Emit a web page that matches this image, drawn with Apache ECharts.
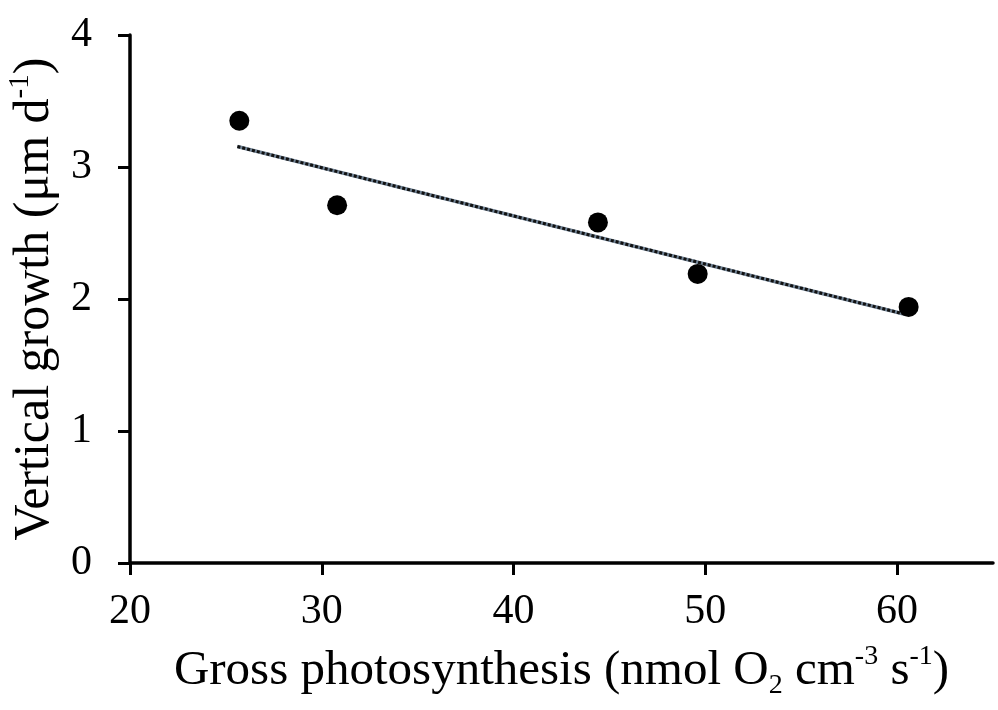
<!DOCTYPE html>
<html><head><meta charset="utf-8">
<script src="https://cdn.jsdelivr.net/npm/echarts@6/dist/echarts.min.js"></script>
<style>html,body{margin:0;padding:0;background:#fff}#c{width:998px;height:710px}</style>
</head><body><div id="c"></div>
<script>
const photosynthesis = [25.7, 30.8, 44.4, 49.6, 60.6];
const verticalGrowth = [3.35, 2.71, 2.58, 2.19, 1.94];
const trendX = [25.6, 60.4];
const trendY = [3.155, 1.885];
const xTicks = [20, 30, 40, 50, 60];
const yTicks = [0, 1, 2, 3, 4];

const FONT = '"Liberation Serif", "Times New Roman", serif';
const chart = echarts.init(document.getElementById('c'), null, {renderer: 'canvas'});
const pts = photosynthesis.map((x, i) => [x, verticalGrowth[i]]);
const trend = trendX.map((x, i) => [x, trendY[i]]);
function rich(size) {
  return {
    a: {fontFamily: FONT, fontSize: size, color: '#000', lineHeight: size + 8},
    sup: {fontFamily: FONT, fontSize: Math.round(size * 0.58), color: '#000', lineHeight: Math.round(size * 0.62), verticalAlign: 'top'},
    sub: {fontFamily: FONT, fontSize: Math.round(size * 0.58), color: '#000', lineHeight: Math.round(size * 0.62), verticalAlign: 'bottom'}
  };
}
chart.setOption({
  animation: false,
  backgroundColor: '#fff',
  grid: {left: 130, right: 5, top: 35, bottom: 147, containLabel: false, outerBoundsMode: 'none'},
  xAxis: {
    type: 'value', min: 20, max: 65, interval: 10,
    splitLine: {show: false},
    axisLine: {lineStyle: {color: '#000', width: 3.5}},
    axisTick: {show: true, length: 12, lineStyle: {color: '#000', width: 3}, customValues: xTicks},
    axisLabel: {fontFamily: FONT, fontSize: 42, color: '#000', margin: 28, customValues: xTicks},
    name: '{a|Gross photosynthesis (nmol O}{sub|2}{a| cm}{sup|-3}{a| s}{sup|-1}{a|)}',
    nameLocation: 'middle', nameGap: 80,
    nameTextStyle: {rich: rich(49)}
  },
  yAxis: {
    type: 'value', min: 0, max: 4, interval: 1,
    splitLine: {show: false},
    axisLine: {show: true, lineStyle: {color: '#000', width: 3.5}},
    axisTick: {show: true, length: 12, lineStyle: {color: '#000', width: 3}, customValues: yTicks},
    axisLabel: {fontFamily: FONT, fontSize: 42, color: '#000', margin: 38, customValues: yTicks},
    name: '{a|Vertical growth (μm d}{sup|-1}{a|)}',
    nameLocation: 'middle', nameGap: 57, nameRotate: 90,
    nameTextStyle: {rich: rich(50)}
  },
  series: [
    {type: 'line', data: trend, symbol: 'none', z: 2,
     lineStyle: {color: '#6f8193', width: 3.5}},
    {type: 'line', data: trend, symbol: 'none', z: 3,
     lineStyle: {color: '#111', width: 3, type: [3, 2]}},
    {type: 'scatter', data: pts, symbol: 'circle', symbolSize: 20, z: 4,
     itemStyle: {color: '#000', opacity: 1}}
  ]
});
</script></body></html>
